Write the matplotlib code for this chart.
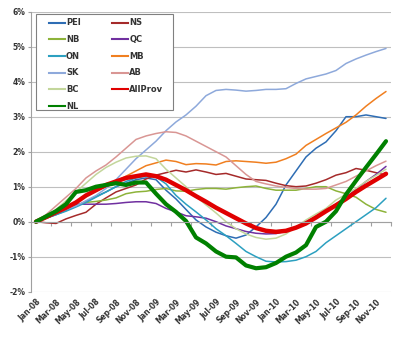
import matplotlib
matplotlib.use("Agg")
import matplotlib.pyplot as plt
from matplotlib.lines import Line2D
from matplotlib.patches import Rectangle
import numpy as np

# months Jan-08 .. Dec-10
months = [f"{m}-{y:02d}" for y in (8, 9, 10) for m in
          ["Jan", "Feb", "Mar", "Apr", "May", "Jun", "Jul", "Aug", "Sep", "Oct", "Nov", "Dec"]]

pei = [0, 0.1, 0.2, 0.32, 0.45, 0.58, 0.72, 0.85, 1.0, 1.1, 1.2, 1.25,
       1.2, 0.9, 0.65, 0.35, 0.05, -0.15, -0.3, -0.4, -0.47, -0.38, -0.15, 0.12,
       0.5, 1.05, 1.45, 1.85, 2.1, 2.28, 2.6, 3.0, 3.0, 3.05, 3.0, 2.95]
ns = [0, -0.03, -0.05, 0.08, 0.18, 0.27, 0.5, 0.68, 0.85, 0.95, 1.05, 1.22,
      1.33, 1.4, 1.47, 1.42, 1.48, 1.42, 1.35, 1.38, 1.3, 1.22, 1.2, 1.18,
      1.1, 1.03, 1.0, 1.02, 1.1, 1.2, 1.33, 1.4, 1.52, 1.47, 1.4, 1.33]
nb = [0, 0.1, 0.22, 0.35, 0.48, 0.55, 0.58, 0.62, 0.68, 0.8, 0.85, 0.87,
      0.92, 0.95, 0.88, 0.87, 0.92, 0.95, 0.95, 0.93, 0.97, 1.0, 1.02, 0.95,
      0.9, 0.9, 0.9, 0.95, 1.0, 1.0, 0.88, 0.8, 0.7, 0.5, 0.35, 0.27]
qc = [0, 0.1, 0.22, 0.38, 0.5, 0.5, 0.5, 0.5, 0.52, 0.55, 0.57, 0.57,
      0.52, 0.38, 0.28, 0.17, 0.14, 0.1, 0.0, -0.12, -0.2, -0.28, -0.33, -0.35,
      -0.34, -0.27, -0.15, 0.0, 0.15, 0.32, 0.5, 0.7, 0.92, 1.15, 1.35, 1.58]
on = [0, 0.1, 0.2, 0.3, 0.42, 0.55, 0.7, 0.85, 1.0, 1.15, 1.25, 1.3,
      1.28, 1.08, 0.75, 0.5, 0.28, 0.05, -0.2, -0.4, -0.62, -0.85, -1.0, -1.13,
      -1.15, -1.14, -1.1, -1.0, -0.85, -0.6, -0.4, -0.2, 0.0, 0.2, 0.4, 0.67]
mb = [0, 0.12, 0.25, 0.4, 0.55, 0.72, 0.88, 1.0, 1.15, 1.3, 1.45, 1.6,
      1.68, 1.76, 1.72, 1.63, 1.66, 1.65, 1.62, 1.72, 1.74, 1.72, 1.7, 1.67,
      1.7, 1.8, 1.93, 2.18, 2.35, 2.52, 2.68, 2.84, 3.05, 3.3, 3.52, 3.72]
sk = [0, 0.1, 0.25, 0.35, 0.45, 0.6, 0.75, 0.95, 1.2, 1.5, 1.8, 2.05,
      2.3, 2.6, 2.85, 3.05, 3.3, 3.6, 3.75, 3.78, 3.76, 3.73, 3.75, 3.78,
      3.78, 3.8, 3.95, 4.08, 4.15, 4.22, 4.32, 4.52, 4.65, 4.76, 4.86, 4.95]
ab = [0, 0.2, 0.45, 0.7, 0.95, 1.25, 1.45, 1.62, 1.85, 2.1, 2.35, 2.45,
      2.52, 2.57, 2.55, 2.45, 2.3, 2.15, 2.0, 1.85, 1.6, 1.35, 1.15, 1.08,
      1.02, 0.98, 0.95, 0.93, 0.93, 0.95, 1.05, 1.15, 1.3, 1.45, 1.6, 1.73]
bc = [0, 0.15, 0.35, 0.6, 0.85, 1.1, 1.35, 1.55, 1.7, 1.82, 1.87, 1.88,
      1.8, 1.5, 1.25, 1.0, 0.72, 0.48, 0.25, 0.0, -0.2, -0.35, -0.45, -0.5,
      -0.47, -0.35, -0.15, 0.05, 0.22, 0.38, 0.62, 0.78, 0.95, 1.15, 1.32, 1.5]
allprov = [0, 0.13, 0.27, 0.4, 0.55, 0.75, 0.9, 1.05, 1.15, 1.25, 1.3, 1.35,
           1.3, 1.2, 1.05, 0.9, 0.73, 0.57, 0.4, 0.25, 0.1, -0.05, -0.18, -0.26,
           -0.29, -0.26, -0.17, -0.05, 0.12, 0.3, 0.47, 0.65, 0.85, 1.03, 1.2, 1.37]
nl = [0, 0.15, 0.3, 0.5, 0.85, 0.9, 1.0, 1.05, 1.1, 1.05, 1.12, 1.12,
      0.8, 0.5, 0.28, 0.02, -0.45, -0.62, -0.85, -1.0, -1.02, -1.25, -1.33, -1.3,
      -1.18, -1.0, -0.88, -0.67, -0.15, 0.0, 0.3, 0.78, 1.17, 1.55, 1.92, 2.3]

names = ["PEI", "NS", "NB", "QC", "ON", "MB", "SK", "AB", "BC", "AllProv", "NL"]
series = [pei, ns, nb, qc, on, mb, sk, ab, bc, allprov, nl]
colors = ["#2E6DB4", "#A52A2A", "#8DB33A", "#7030A0", "#2CA0C0", "#F07F20",
          "#8EA9DB", "#D99694", "#C3D69B", "#E00000", "#008000"]
widths = [1.1] * 9 + [3.2, 3.0]

fig = plt.figure(figsize=(4, 3.37), dpi=100)
ax = fig.add_axes([31 / 400, 1 - 291.7 / 337, 360 / 400, 280 / 337])

x = np.arange(len(months))
for name, vals, c, w in zip(names, series, colors, widths):
    ax.plot(x, vals, color=c, lw=w, solid_capstyle="round", solid_joinstyle="round")

ax.set_xlim(-0.5, len(months) - 0.5)
ax.set_ylim(-2, 6)
yt = np.arange(-2, 7)
ax.set_yticks(yt)
ax.set_yticklabels([f"{v}%" for v in yt], fontsize=5.5, fontweight="bold", color="#333333")
ax.yaxis.grid(True, color="#BFBFBF", lw=0.8)
ax.set_axisbelow(True)
ax.tick_params(axis="y", length=2, color="#A0A0A0", pad=2)

for s in ["top", "right"]:
    ax.spines[s].set_visible(False)
ax.spines["left"].set_color("#A0A0A0")
ax.spines["left"].set_linewidth(0.8)
ax.spines["bottom"].set_position(("data", 0))
ax.spines["bottom"].set_color("#A0A0A0")
ax.spines["bottom"].set_linewidth(0.8)
ax.set_xticks(np.arange(-0.5, len(months), 2))
ax.tick_params(axis="x", length=3, color="#A0A0A0", labelbottom=False)

sec = ax.secondary_xaxis(0.0)
sec.set_xticks(x[::2])
sec.set_xticklabels(months[::2], rotation=45, ha="right", rotation_mode="anchor",
                    fontsize=5.5, fontweight="bold", color="#333333")
sec.tick_params(length=0, pad=4)
sec.spines["bottom"].set_visible(False)

# legend: Excel fills row-wise, matplotlib column-wise
handles = [Line2D([], [], color=c, lw=1.5) for c in colors]
order = [0, 2, 4, 6, 8, 10, 1, 3, 5, 7, 9]
leg = ax.legend([handles[i] for i in order], [names[i] for i in order], ncol=2,
                loc="upper left", bbox_to_anchor=(0.05, 0.976, 0.318, 0.0),
                mode="expand", frameon=False,
                prop={"size": 6, "weight": "bold"}, handlelength=1.9,
                handletextpad=0.15, labelspacing=0.92, borderaxespad=0,
                borderpad=0)
for t in leg.get_texts():
    t.set_color("#333333")
ax.add_patch(Rectangle((5 / 360, (291.7 - 110) / 280), 137 / 360, 96 / 280,
                       transform=ax.transAxes, fill=True, facecolor="white",
                       edgecolor="#808080", lw=0.8, zorder=4))
leg.set_zorder(5)

fig.savefig("out.png", dpi=100)
